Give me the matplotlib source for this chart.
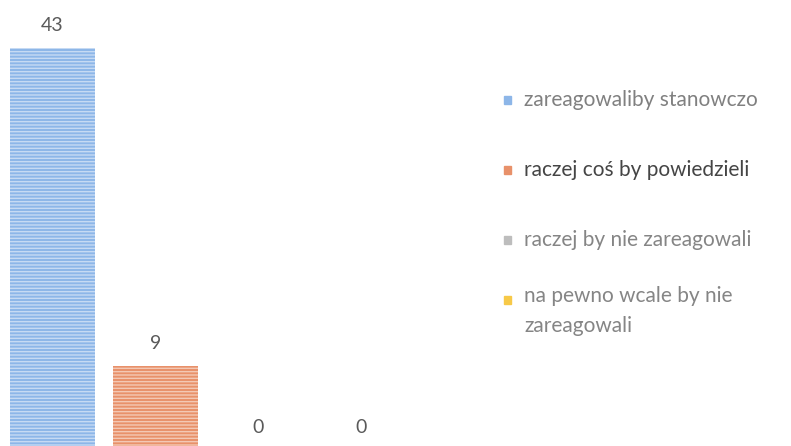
import matplotlib.pyplot as plt
from matplotlib.patches import Rectangle

categories = ["zareagowaliby stanowczo", "raczej coś by powiedzieli",
              "raczej by nie zareagowali", "na pewno wcale by nie\nzareagowali"]
values = [43, 9, 0, 0]
colors = ["#8db6e8", "#e8916a", "#bdbdbd", "#f7c948"]
legend_text_colors = ["#808080", "#454545", "#858585", "#858585"]

plt.rcParams['font.family'] = ['Lato', 'DejaVu Sans']
plt.rcParams['hatch.linewidth'] = 1.0

fig = plt.figure(figsize=(7.91, 4.46), dpi=100)
# axes spans from top of figure to 4px below bottom edge
ax = fig.add_axes([0, -4 / 446, 420 / 791, 450 / 446])

x = list(range(len(values)))
bars = ax.bar(x, values, width=0.825, color=colors, linewidth=0,
              hatch='-----', edgecolor='#ffffff80')
for xi, v in zip(x, values):
    ax.annotate(str(v), (xi, v), xytext=(0, 16), textcoords='offset points',
                ha='center', va='center', fontsize=14, color='#5a5a5a')

ax.set_xlim(-52.5 / 103, -52.5 / 103 + 420 / 103)
ax.set_ylim(0, 450 / 9.35)
ax.axis('off')

# legend drawn by hand so the marker sits on the first line of a wrapped label
ys = [100, 170, 240, 300]
for cat, col, tcol, yp in zip(categories, colors, legend_text_colors, ys):
    fy = 1 - yp / 446
    fig.patches.append(Rectangle((504 / 791, fy - 4 / 446), 7 / 791, 8 / 446,
                                 transform=fig.transFigure, color=col))
    fig.text(524 / 791, fy, cat, ha='left', va='center' if '\n' not in cat else 'top',
             fontsize=15, color=tcol, linespacing=1.6)
# adjust multi-line label so first line aligns with the marker
fig.texts[-1].set_y(1 - (300 - 14) / 446)

fig.savefig("out.png", dpi=100)
